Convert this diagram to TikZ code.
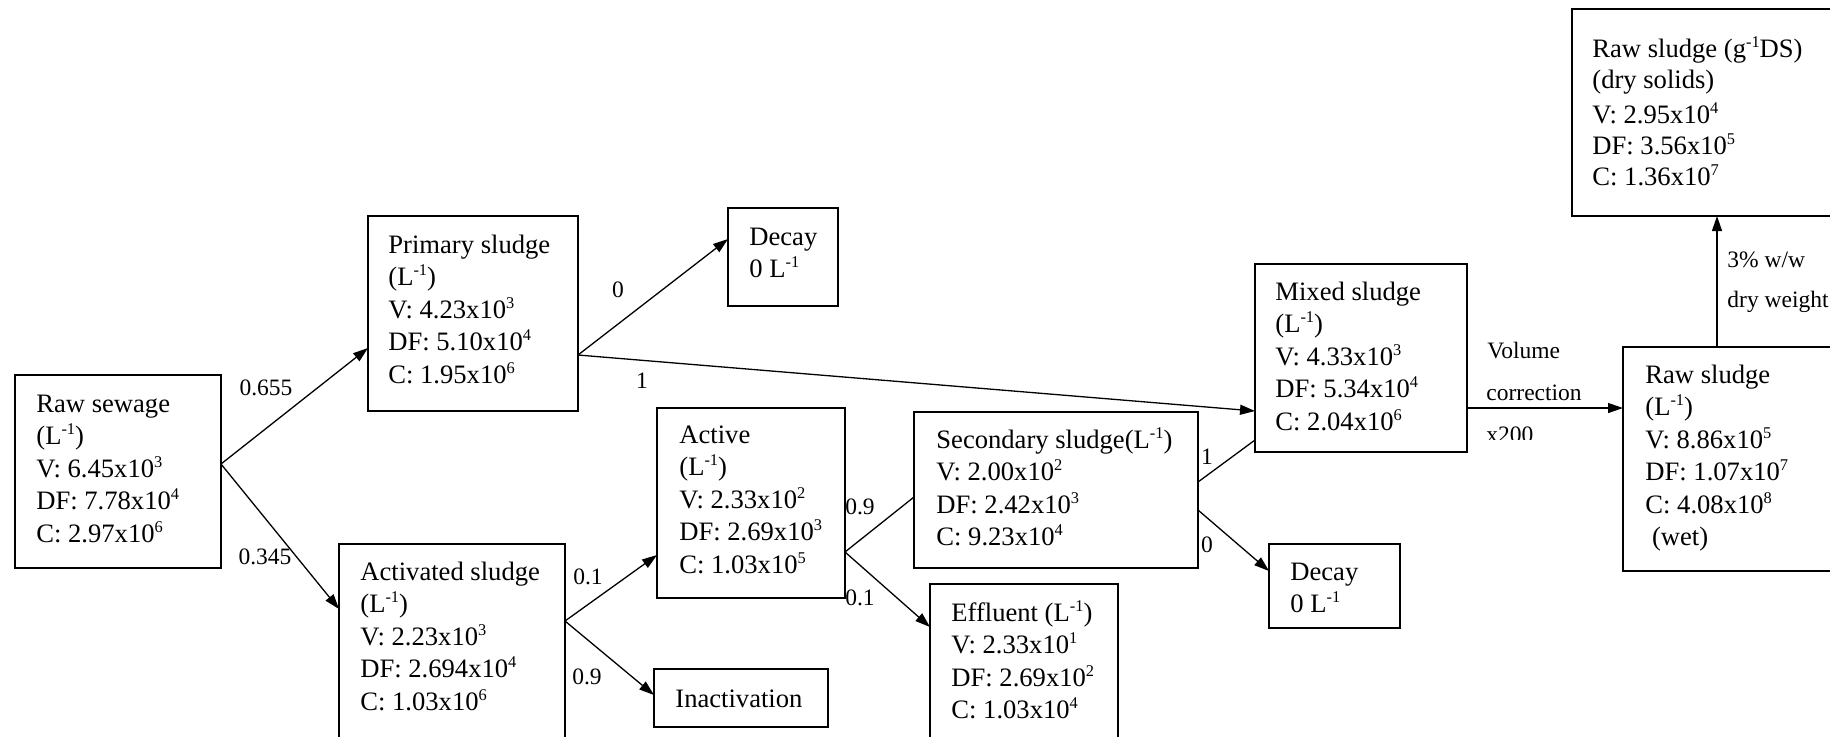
\documentclass[tikz,border=0pt]{standalone}
\usepackage{fontspec}
\setmainfont{Liberation Serif}
\usetikzlibrary{arrows.meta,calc}

% small raised text, per-litre unit and powers of ten
\newcommand{\sups}[1]{\raisebox{5pt}{\fontsize{8.2}{8}\selectfont #1}}
\newcommand{\Linv}{(L\sups{-1})}
\newcommand{\ee}[1]{x10\sups{#1}}

\begin{document}
\begin{tikzpicture}[x=0.5pt,y=-0.5pt,
  box/.style={draw, line width=0.85pt, inner sep=0pt, outer sep=0pt, anchor=north west},
  boxtext/.style={anchor=north west, inner sep=0pt, align=left,
                  font=\fontsize{13.3}{16.25}\selectfont},
  lbl/.style={inner sep=0pt, font=\fontsize{11.75}{14}\selectfont},
  flow/.style={line width=0.65pt, -{Triangle[length=7.5pt,width=5pt]}},
  link/.style={line width=0.65pt}]
\useasboundingbox (0,0) rectangle (1830,736);

% ---- boxes ----
\node[box, minimum width=103pt, minimum height=96.5pt] (rs) at (15,375) {};
\node[box, minimum width=105pt, minimum height=97.5pt] (ps) at (368,216) {};
\node[box, minimum width=55pt,  minimum height=49pt]   (d1) at (728,208) {};
\node[box, minimum width=113pt, minimum height=115pt]  (as) at (339,544) {};
\node[box, minimum width=94pt,  minimum height=95pt]   (ac) at (657,408) {};
\node[box, minimum width=87pt,  minimum height=29pt]   (in) at (654,669) {};
\node[box, minimum width=142pt, minimum height=78pt]   (ss) at (914,412) {};
\node[box, minimum width=94pt,  minimum height=90pt]   (ef) at (930,584) {};
\node[box, minimum width=65.5pt,minimum height=42pt]   (d2) at (1269,544) {};
\node[box, minimum width=106pt, minimum height=94pt]   (ms) at (1255,264) {};
\node[box, minimum width=120pt, minimum height=112pt]  (rl) at (1623,347) {};
\node[box, minimum width=145pt, minimum height=103.5pt](rd) at (1572,9) {};

% ---- box contents ----
\node[boxtext] (rs-t) at (36,389) {\strut Raw sewage\\ \Linv\\ V: 6.45\ee{3}\\ DF: 7.78\ee{4}\\ C: 2.97\ee{6}};
\node[boxtext] (ps-t) at (388,230) {\strut Primary sludge\\ \Linv\\ V: 4.23\ee{3}\\ DF: 5.10\ee{4}\\ C: 1.95\ee{6}};
\node[boxtext] (d1-t) at (749,222) {\strut Decay\\ 0 L\sups{-1}};
\node[boxtext] (as-t) at (360,557) {\strut Activated sludge\\ \Linv\\ V: 2.23\ee{3}\\ DF: 2.694\ee{4}\\ C: 1.03\ee{6}};
\node[boxtext] (ac-t) at (679,420) {\strut Active\\ \Linv\\ V: 2.33\ee{2}\\ DF: 2.69\ee{3}\\ C: 1.03\ee{5}};
\node[boxtext] (in-t) at (675,684) {\strut Inactivation};
\node[boxtext] (ss-t) at (936,425) {\strut Secondary sludge\Linv\\ V: 2.00\ee{2}\\ DF: 2.42\ee{3}\\ C: 9.23\ee{4}};
\node[boxtext] (ef-t) at (951,598) {\strut Effluent \Linv\\ V: 2.33\ee{1}\\ DF: 2.69\ee{2}\\ C: 1.03\ee{4}};
\node[boxtext] (d2-t) at (1290,557) {\strut Decay\\ 0 L\sups{-1}};
\node[boxtext] (ms-t) at (1275,277) {\strut Mixed sludge\\ \Linv\\ V: 4.33\ee{3}\\ DF: 5.34\ee{4}\\ C: 2.04\ee{6}};
\node[boxtext] (rl-t) at (1645,360) {\strut Raw sludge\\ \Linv\\ V: 8.86\ee{5}\\ DF: 1.07\ee{7}\\ C: 4.08\ee{8}\\ \ (wet)};
\node[boxtext, font=\fontsize{13.3}{15.5}\selectfont] (rd-t) at (1592,35) {\strut Raw sludge (g\sups{-1}DS)\\ (dry solids)\\[2pt] V: 2.95\ee{4}\\ DF: 3.56\ee{5}\\ C: 1.36\ee{7}};

% ---- connectors ----
\draw[flow] ($(rs.north east)+(0,89)$) -- ($(ps.north west)+(0,132)$);
\draw[flow] ($(rs.north east)+(0,89)$) -- ($(as.north west)+(0,65)$);
\draw[flow] ($(ps.north east)+(0,139)$) -- ($(d1.north west)+(0,31)$);
\draw[flow] ($(ps.north east)+(0,139)$) -- ($(ms.north west)+(0,147)$);
\draw[flow] ($(as.north east)+(0,77)$) -- ($(ac.north west)+(0,147)$);
\draw[flow] ($(as.north east)+(0,77)$) -- ($(in.north west)+(0,26)$);
\draw[link] ($(ac.north east)+(0,144)$) -- ($(ss.north west)+(0,85)$);
\draw[flow] ($(ac.north east)+(0,144)$) -- ($(ef.north west)+(0,43)$);
\draw[link] ($(ss.north east)+(0,70)$) -- ($(ms.north west)+(0,176)$);
\draw[flow] ($(ss.north east)+(0,98)$) -- ($(d2.north west)+(0,27)$);
\draw[flow] ($(ms.north east)+(0,144)$) -- ($(rl.north west)+(0,61)$);
\draw[flow] ($(rl.north west)+(94,0)$) -- ($(rd.south west)+(145,0)$);

% ---- fractions and notes on the connectors ----
\node[lbl] (f1) at (266,388) {0.655};
\node[lbl] (f2) at (265,557) {0.345};
\node[lbl] (f3) at (618,290) {0};
\node[lbl] (f4) at (642,381) {1};
\node[lbl] (f5) at (588,577) {0.1};
\node[lbl] (f6) at (587,677) {0.9};
\node[lbl] (f7) at (860,507) {0.9};
\node[lbl] (f8) at (860,598) {0.1};
\node[lbl] (f9) at (1207,457) {1};
\node[lbl] (f10) at (1207,545) {0};
\node[lbl, anchor=base west] (vol) at (1487,358) {Volume};
\node[lbl, anchor=base west] (cor) at (1486,400) {correction};
\begin{scope}
  \clip (1470,380) rectangle (1570,439);
  \node[lbl, anchor=base west] (x200) at (1486,442) {x200};
\end{scope}
\node[lbl, anchor=base west] (ww) at (1727,267) {3\% w/w};
\node[lbl, anchor=base west] (dw) at (1727,307) {dry weight};
\end{tikzpicture}
\end{document}
